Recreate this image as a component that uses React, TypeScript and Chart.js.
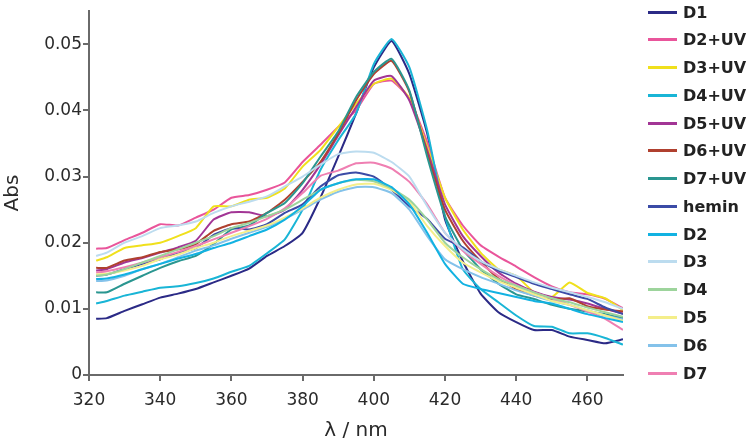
import React, { useEffect, useRef } from 'react';
import { Chart, registerables } from 'chart.js';

Chart.register(...registerables);

// wavelength grid (nm)
const wavelengths = [322, 325, 330, 335, 340, 345, 350, 355, 360, 365, 370, 375, 380, 385, 390, 395, 400, 405, 410, 415, 420, 425, 430, 435, 440, 445, 450, 455, 460, 465, 470];

const D1 = [0.0085, 0.0086, 0.0097, 0.0107, 0.0117, 0.0123, 0.0130, 0.0140, 0.0150, 0.0161, 0.0180, 0.0195, 0.0215, 0.0268, 0.0330, 0.0395, 0.0465, 0.0505, 0.0455, 0.0365, 0.0235, 0.0172, 0.0123, 0.0095, 0.0080, 0.0068, 0.0068, 0.0058, 0.0053, 0.0048, 0.0054];
const D2UV = [0.0191, 0.0192, 0.0204, 0.0215, 0.0228, 0.0226, 0.0238, 0.0250, 0.0268, 0.0272, 0.0280, 0.0291, 0.0322, 0.0348, 0.0375, 0.0400, 0.0440, 0.0445, 0.0418, 0.0352, 0.0268, 0.0226, 0.0196, 0.0179, 0.0164, 0.0148, 0.0134, 0.0125, 0.0122, 0.0115, 0.0101];
const D3UV = [0.0173, 0.0178, 0.0192, 0.0196, 0.0200, 0.0210, 0.0222, 0.0255, 0.0255, 0.0265, 0.0268, 0.0282, 0.0315, 0.0340, 0.0375, 0.0410, 0.0440, 0.0448, 0.0418, 0.0345, 0.0268, 0.0220, 0.0185, 0.0160, 0.0150, 0.0125, 0.0118, 0.0140, 0.0124, 0.0116, 0.0098];
const D4UV = [0.0108, 0.0112, 0.0120, 0.0126, 0.0132, 0.0134, 0.0139, 0.0146, 0.0156, 0.0165, 0.0184, 0.0205, 0.0250, 0.0310, 0.0355, 0.0395, 0.0470, 0.0508, 0.0465, 0.0370, 0.0240, 0.0160, 0.0130, 0.0110, 0.0090, 0.0074, 0.0073, 0.0063, 0.0063, 0.0056, 0.0046];
const D5UV = [0.0158, 0.0160, 0.0170, 0.0177, 0.0185, 0.0193, 0.0203, 0.0235, 0.0246, 0.0246, 0.0240, 0.0250, 0.0280, 0.0318, 0.0362, 0.0405, 0.0445, 0.0452, 0.0415, 0.0340, 0.0258, 0.0210, 0.0180, 0.0155, 0.0138, 0.0126, 0.0118, 0.0114, 0.0108, 0.0100, 0.0093];
const D6UV = [0.0162, 0.0162, 0.0173, 0.0178, 0.0186, 0.0190, 0.0198, 0.0218, 0.0228, 0.0232, 0.0245, 0.0265, 0.0292, 0.0322, 0.0365, 0.0415, 0.0455, 0.0475, 0.0428, 0.0335, 0.0250, 0.0203, 0.0172, 0.0146, 0.0130, 0.0120, 0.0114, 0.0116, 0.0104, 0.0099, 0.0096];
const D7UV = [0.0125, 0.0125, 0.0138, 0.0150, 0.0162, 0.0172, 0.0180, 0.0198, 0.0220, 0.0226, 0.0245, 0.0260, 0.0290, 0.0330, 0.0368, 0.0420, 0.0458, 0.0478, 0.0430, 0.0330, 0.0240, 0.0190, 0.0160, 0.0138, 0.0122, 0.0115, 0.0106, 0.0100, 0.0096, 0.0092, 0.0086];
const hemin = [0.0150, 0.0152, 0.0160, 0.0168, 0.0175, 0.0185, 0.0192, 0.0212, 0.0222, 0.0220, 0.0228, 0.0245, 0.0258, 0.0285, 0.0302, 0.0306, 0.0300, 0.0280, 0.0255, 0.0236, 0.0206, 0.0193, 0.0172, 0.0158, 0.0148, 0.0138, 0.0130, 0.0122, 0.0115, 0.0102, 0.0092];
const D2 = [0.0145, 0.0146, 0.0152, 0.0160, 0.0168, 0.0176, 0.0183, 0.0192, 0.0200, 0.0210, 0.0220, 0.0235, 0.0255, 0.0280, 0.0290, 0.0296, 0.0296, 0.0284, 0.0258, 0.0215, 0.0168, 0.0138, 0.0130, 0.0124, 0.0118, 0.0112, 0.0108, 0.0100, 0.0092, 0.0086, 0.0080];
const D3 = [0.0180, 0.0185, 0.0200, 0.0210, 0.0222, 0.0226, 0.0232, 0.0245, 0.0255, 0.0262, 0.0270, 0.0285, 0.0300, 0.0318, 0.0334, 0.0338, 0.0336, 0.0322, 0.0300, 0.0255, 0.0215, 0.0190, 0.0172, 0.0160, 0.0150, 0.0140, 0.0132, 0.0125, 0.0118, 0.0110, 0.0100];
const D4 = [0.0150, 0.0152, 0.0160, 0.0170, 0.0180, 0.0190, 0.0200, 0.0210, 0.0222, 0.0230, 0.0240, 0.0250, 0.0265, 0.0280, 0.0290, 0.0295, 0.0293, 0.0282, 0.0265, 0.0235, 0.0200, 0.0178, 0.0160, 0.0145, 0.0135, 0.0125, 0.0116, 0.0110, 0.0102, 0.0095, 0.0088];
const D5 = [0.0152, 0.0153, 0.0158, 0.0165, 0.0175, 0.0182, 0.0192, 0.0200, 0.0210, 0.0218, 0.0226, 0.0238, 0.0252, 0.0268, 0.0280, 0.0288, 0.0289, 0.0280, 0.0262, 0.0225, 0.0195, 0.0170, 0.0155, 0.0142, 0.0132, 0.0122, 0.0112, 0.0106, 0.0098, 0.0090, 0.0082];
const D6 = [0.0142, 0.0143, 0.0150, 0.0160, 0.0168, 0.0178, 0.0188, 0.0196, 0.0206, 0.0215, 0.0224, 0.0236, 0.0250, 0.0265, 0.0277, 0.0284, 0.0284, 0.0275, 0.0250, 0.0210, 0.0175, 0.0160, 0.0148, 0.0138, 0.0128, 0.0120, 0.0112, 0.0106, 0.0098, 0.0090, 0.0084];
const D7 = [0.0155, 0.0157, 0.0163, 0.0170, 0.0178, 0.0186, 0.0195, 0.0205, 0.0215, 0.0225, 0.0236, 0.0252, 0.0275, 0.0301, 0.0309, 0.0320, 0.0321, 0.0312, 0.0292, 0.0258, 0.0215, 0.0188, 0.0168, 0.0150, 0.0136, 0.0125, 0.0116, 0.0106, 0.0096, 0.0085, 0.0068];

const seriesNames = ['D1', 'D2+UV', 'D3+UV', 'D4+UV', 'D5+UV', 'D6+UV', 'D7+UV', 'hemin', 'D2', 'D3', 'D4', 'D5', 'D6', 'D7'];
const seriesValues = [D1, D2UV, D3UV, D4UV, D5UV, D6UV, D7UV, hemin, D2, D3, D4, D5, D6, D7];
const seriesColors = ['#2b2a86', '#e9559b', '#f0e01c', '#19b5d6', '#a23595', '#b0402f', '#2a9690', '#3b4ba6', '#12b2e2', '#bcdcef', '#9dd49c', '#f4ee8a', '#84c2ea', '#ef7fb2'];

const xTickStep = 20;
const yTickStep = 0.01;

const FONT = '"DejaVu Sans", Verdana, sans-serif';

export default function App() {
  const canvasRef = useRef<HTMLCanvasElement | null>(null);

  useEffect(() => {
    const canvas = canvasRef.current;
    if (!canvas) return;
    Chart.defaults.font.family = FONT;
    const datasets = seriesNames.map((name, si) => ({
      label: name,
      data: wavelengths.map((x, i) => ({ x, y: seriesValues[si][i] })),
      borderColor: seriesColors[si],
      backgroundColor: seriesColors[si],
      borderWidth: 2,
      pointRadius: 0,
      tension: 0.15,
      fill: false,
    }));
    // draw the light (no-UV) series first, UV series on top
    const ordered = [...datasets.slice(8), datasets[7], ...datasets.slice(0, 7).reverse()];
    const chart = new Chart(canvas, {
      type: 'line',
      data: { datasets: ordered },
      options: {
        animation: false,
        responsive: false,
        maintainAspectRatio: false,
        layout: { padding: { top: 9, right: 127, left: 0, bottom: 0 } },
        plugins: { legend: { display: false }, tooltip: { enabled: false } },
        scales: {
          x: {
            type: 'linear',
            min: 320,
            max: 470,
            afterFit: (s: any) => { s.height = 71; },
            border: { color: '#6a6a6a', width: 2 },
            grid: { drawOnChartArea: false, drawTicks: true, tickLength: 6, color: '#6a6a6a', lineWidth: 2 },
            ticks: {
              stepSize: xTickStep,
              includeBounds: false,
              color: '#2a2a2a',
              font: { size: 17, family: FONT },
              padding: 9,
              maxRotation: 0,
            },
            title: {
              display: true,
              text: 'λ / nm',
              color: '#2a2a2a',
              font: { size: 20, family: FONT },
              padding: { top: 0, bottom: 3 },
            },
          },
          y: {
            type: 'linear',
            min: 0,
            max: 0.055,
            afterFit: (s: any) => { s.width = 89; },
            border: { color: '#6a6a6a', width: 2 },
            grid: { drawOnChartArea: false, drawTicks: true, tickLength: 6, color: '#6a6a6a', lineWidth: 2 },
            ticks: {
              stepSize: yTickStep,
              includeBounds: false,
              color: '#2a2a2a',
              font: { size: 17, family: FONT },
              padding: 1,
              callback: (v: any) => (Math.abs(v) < 1e-9 ? '0' : String(Number(Number(v).toFixed(2)))),
            },
            title: {
              display: true,
              text: 'Abs',
              color: '#2a2a2a',
              font: { size: 20, family: FONT },
              padding: { top: 1, bottom: 0 },
            },
          },
        },
      },
    });
    return () => chart.destroy();
  }, []);

  return (
    <div style={{ position: 'fixed', left: 0, top: 0, width: 750, height: 446, background: '#fff' }}>
      <canvas ref={canvasRef} width={750} height={446} style={{ display: 'block', width: 750, height: 446 }} />
      {seriesNames.map((name, i) => (
        <div
          key={name}
          style={{
            position: 'absolute',
            left: 648,
            top: 12 + i * 27.77 - 10,
            height: 20,
            display: 'flex',
            alignItems: 'center',
            fontFamily: FONT,
            fontWeight: 'bold',
            fontSize: 16,
            color: '#222',
            whiteSpace: 'nowrap',
          }}
        >
          <span style={{ display: 'inline-block', width: 29, height: 3, background: seriesColors[i], marginRight: 6 }} />
          <span>{name}</span>
        </div>
      ))}
    </div>
  );
}
